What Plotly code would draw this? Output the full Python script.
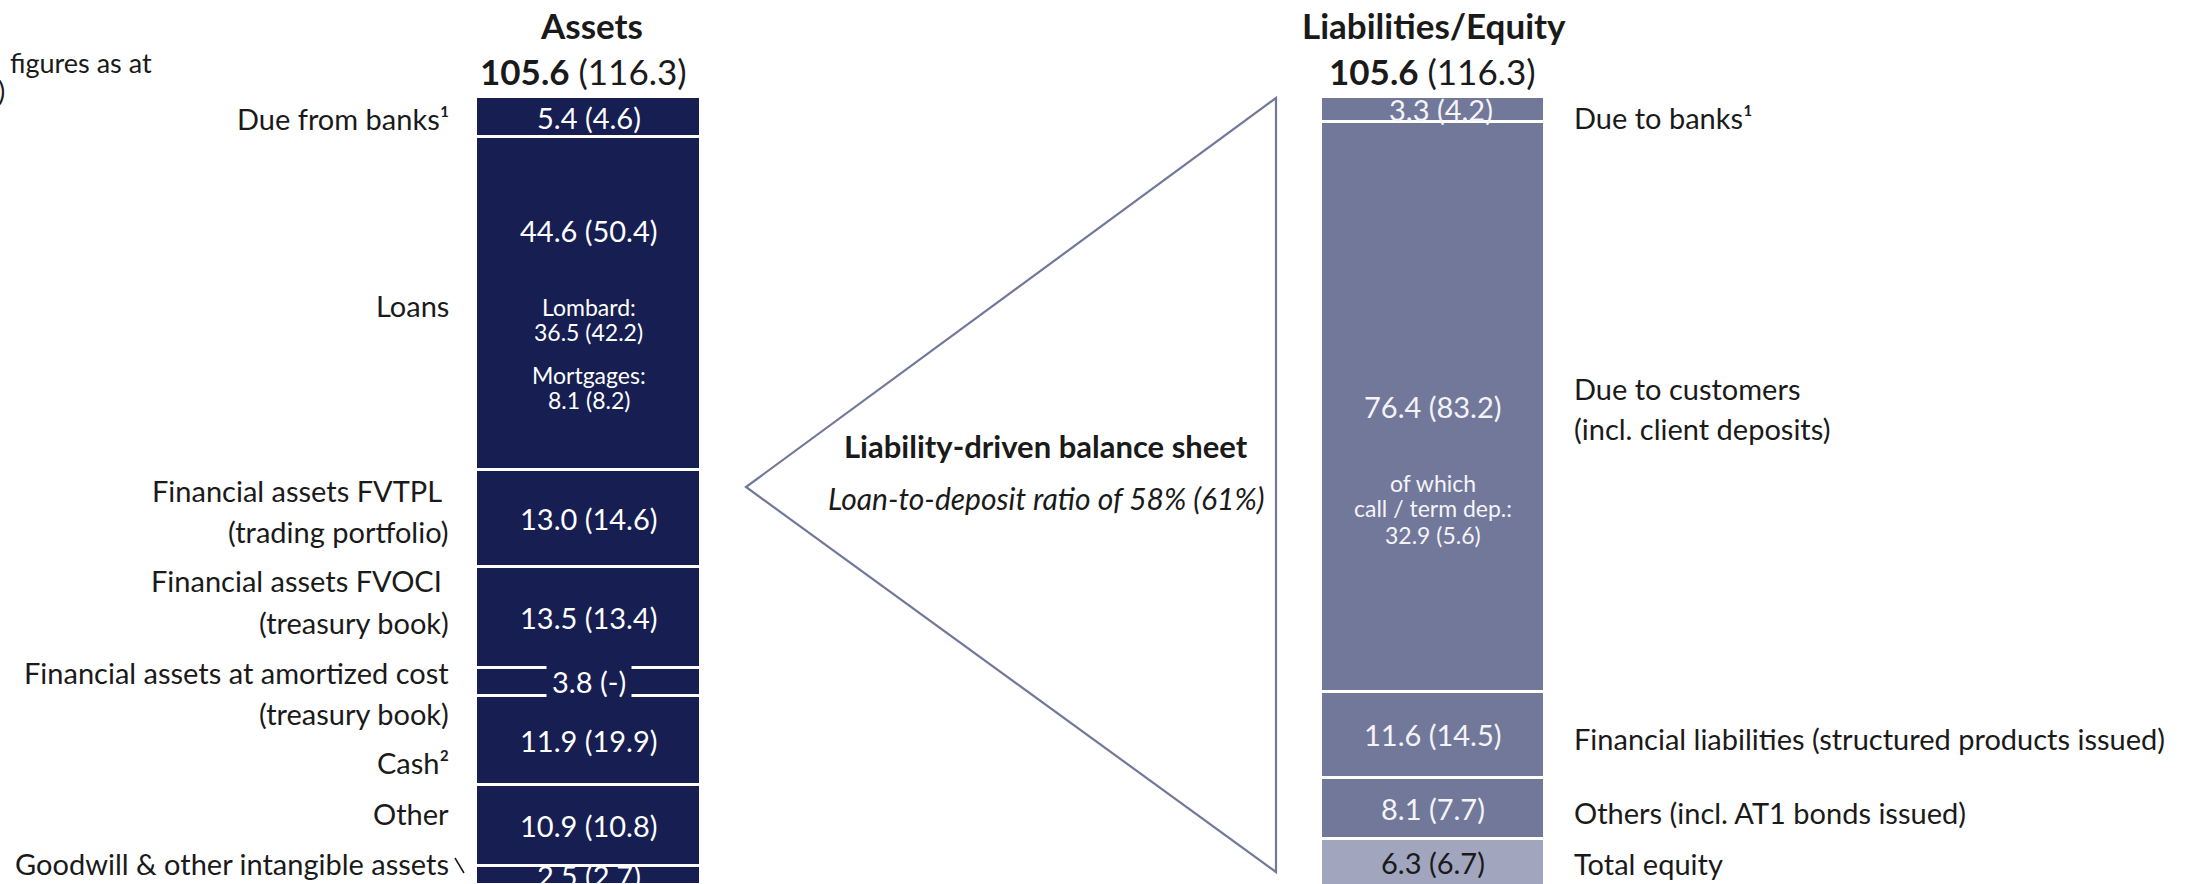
import plotly.graph_objects as go

# ---------------- data ----------------
total_cur = 105.6
total_prev = 116.3

asset_labels = [
    ["Due from banks¹"],
    ["Loans"],
    ["Financial assets FVTPL ", "(trading portfolio)"],
    ["Financial assets FVOCI ", "(treasury book)"],
    ["Financial assets at amortized cost", "(treasury book)"],
    ["Cash²"],
    ["Other"],
    ["Goodwill & other intangible assets"],
]
asset_values = [5.4, 44.6, 13.0, 13.5, 3.8, 11.9, 10.9, 2.5]
asset_prev = [4.6, 50.4, 14.6, 13.4, None, 19.9, 10.8, 2.7]

liab_labels = [
    ["Due to banks¹"],
    ["Due to customers", "(incl. client deposits)"],
    ["Financial liabilities (structured products issued)"],
    ["Others (incl. AT1 bonds issued)"],
    ["Total equity"],
]
liab_values = [3.3, 76.4, 11.6, 8.1, 6.3]
liab_prev = [4.2, 83.2, 14.5, 7.7, 6.7]

loan_sub_names = ["Lombard:", "Mortgages:"]
loan_sub_cur = [36.5, 8.1]
loan_sub_prev = [42.2, 8.2]

deposit_sub_lines = ["of which", "call / term dep.:"]
deposit_sub_cur = 32.9
deposit_sub_prev = 5.6

ltd_cur = 58
ltd_prev = 61

# ---------------- layout constants ----------------
W, H = 2195, 884
TOP_PX = 97          # pixel of the top of the bars
PX_PER_UNIT = 7.46
NAVY = "#161E52"
SLATE = "#72789A"
LIGHT = "#A1A5BE"
INK = "#1A1A1A"
FONT = "Lato"
LBL = 29     # label / value font size
SUB = 23     # small sub-label size
TTL = 35     # title size

y_top = total_cur + TOP_PX / PX_PER_UNIT
y_bot = y_top - H / PX_PER_UNIT


def Y(px):
    """pixel row -> data value"""
    return y_top - px / PX_PER_UNIT


def fmt(cur, prev):
    p = "-" if prev is None else f"{prev:.1f}"
    return f"{cur:.1f} ({p})"


def stack(values, total):
    bases, acc = [], 0.0
    for v in values:
        acc += v
        bases.append(total - acc)
    return bases


A_X, A_W = 588.5, 225
L_X, L_W = 1433, 224

a_base = stack(asset_values, total_cur)
l_base = stack(liab_values, total_cur)

fig = go.Figure()
fig.add_trace(go.Bar(
    x=[A_X] * len(asset_values), y=asset_values, base=a_base, width=A_W,
    marker=dict(color=NAVY, line=dict(color="white", width=3)),
    hoverinfo="skip", showlegend=False))
fig.add_trace(go.Bar(
    x=[L_X] * len(liab_values), y=liab_values, base=l_base, width=L_W,
    marker=dict(color=[SLATE] * (len(liab_values) - 1) + [LIGHT],
                line=dict(color="white", width=3)),
    hoverinfo="skip", showlegend=False))

ann = []


def text(x, y, s, size=LBL, color=INK, anchor="center", **kw):
    ann.append(dict(x=x, y=y, xref="x", yref="y", text=s, showarrow=False,
                    xanchor=anchor, yanchor="middle",
                    font=dict(family=FONT, size=size, color=color), **kw))


# titles
text(591, Y(25), "<b>Assets</b>", size=TTL)
text(583, Y(71), f"<b>{total_cur:.1f}</b> ({total_prev:.1f})", size=TTL)
text(1434, Y(25), "<b>Liabilities/Equity</b>", size=TTL)
text(1432, Y(71), f"<b>{total_cur:.1f}</b> ({total_prev:.1f})", size=TTL)

# top-left note (cut off in the original)
text(8, Y(62), "figures as at", size=27, anchor="left")
text(0.5, Y(90), ")", size=27, anchor="right", xshift=6)

# asset values
a_val_y_override = {1: Y(230)}
for i, (v, p, b) in enumerate(zip(asset_values, asset_prev, a_base)):
    y = a_val_y_override.get(i, b + v / 2)
    extra = {}
    if p is None:
        extra = dict(bgcolor=NAVY, borderpad=5)
    text(A_X, y, fmt(v, p), color="white", **extra)

# loan breakdown (two lines each)
for name, c, p, py in zip(loan_sub_names, loan_sub_cur, loan_sub_prev, [307, 375]):
    text(A_X, Y(py), name, size=SUB, color="white")
    text(A_X, Y(py + 25), fmt(c, p), size=SUB, color="white")

# asset labels (line centres in pixels)
a_label_px = [[118], [305], [490, 531], [580, 622], [672, 713], [762], [813], [863]]
for lines, pys in zip(asset_labels, a_label_px):
    for s, py in zip(lines, pys):
        text(451, Y(py), s, anchor="right")

# liabilities values
for i, (v, p, b) in enumerate(zip(liab_values, liab_prev, l_base)):
    col = INK if i == len(liab_values) - 1 else "#F4F4F8"
    text(L_X + 8 if i == 0 else L_X, b + v / 2, fmt(v, p), color=col)

for s, py in zip(deposit_sub_lines + [fmt(deposit_sub_cur, deposit_sub_prev)],
                 [483, 508, 535]):
    text(L_X, Y(py), s, size=SUB, color="#F4F4F8")

l_label_px = [[117], [388, 428], [738], [812], [863]]
for lines, pys in zip(liab_labels, l_label_px):
    for s, py in zip(lines, pys):
        text(1572, Y(py), s, anchor="left")

# triangle text
text(1046, Y(446), "<b>Liability-driven balance sheet</b>", size=31)
text(1046, Y(498), f"<i>Loan-to-deposit ratio of {ltd_cur}% ({ltd_prev}%)</i>", size=30)

shapes = [
    dict(type="path", xref="x", yref="y",
         path=f"M 746 {Y(487)} L 1276 {Y(98)} L 1276 {Y(872)} Z",
         line=dict(color=SLATE, width=2.2), fillcolor="rgba(0,0,0,0)"),
    dict(type="line", xref="x", yref="y", x0=455, y0=Y(858), x1=464, y1=Y(873),
         line=dict(color=INK, width=1.5)),
]

fig.update_layout(
    width=W, height=H, margin=dict(l=0, r=0, t=0, b=0),
    paper_bgcolor="white", plot_bgcolor="white",
    barmode="overlay", bargap=0,
    xaxis=dict(range=[0, W], visible=False, fixedrange=True),
    yaxis=dict(range=[y_bot, y_top], visible=False, fixedrange=True),
    annotations=ann, shapes=shapes,
    font=dict(family=FONT, color=INK),
)

fig.write_html(
    "out.html",
    config={"displayModeBar": False},
    post_script="document.body.style.margin='0';document.body.style.overflow='hidden';",
)
